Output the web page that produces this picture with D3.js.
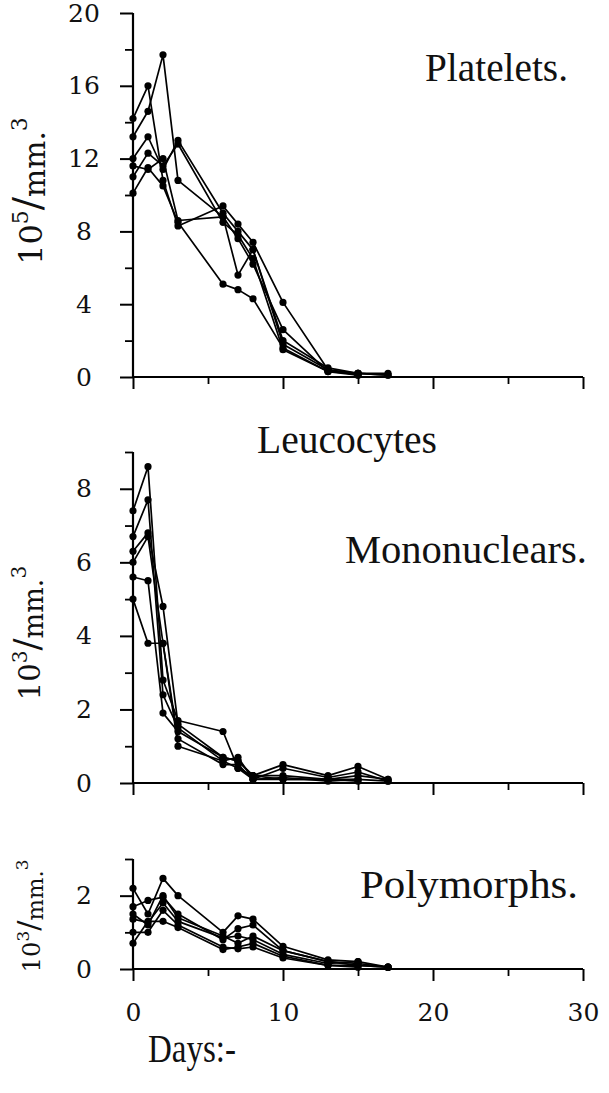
<!DOCTYPE html>
<html>
<head>
<meta charset="utf-8">
<script src="https://cdn.jsdelivr.net/npm/d3@7/dist/d3.min.js"></script>
<style>
  html, body { margin: 0; padding: 0; background: #fff; }
  svg { display: block; }
</style>
</head>
<body>
<svg id="chart" width="609" height="1093"></svg>
<script>
// ---------------- DATA ----------------
const days = [0, 1, 2, 3, 6, 7, 8, 10, 13, 15, 17];

// Platelets, 10^5 / mm^3
const platelets1 = [14.2, 16.0, 10.8, 8.3, 9.4, 8.4, 7.4, 4.1, 0.4, 0.2, 0.1];
const platelets2 = [13.2, 14.6, 17.7, 10.8, 8.8, 7.6, 6.2, 2.6, 0.3, 0.2, null];
const platelets3 = [12.0, 13.2, 11.4, 13.0, 9.0, 8.0, 7.0, 1.8, 0.4, 0.1, null];
const platelets4 = [11.0, 12.3, 11.6, 12.8, 8.5, 7.8, 6.5, 1.5, 0.3, 0.2, 0.2];
const platelets5 = [10.1, 11.5, 10.5, 8.5, 5.1, 4.8, 4.3, 1.6, 0.3, 0.1, null];
const platelets6 = [11.6, 11.4, 12.0, 8.6, 8.8, 5.6, 7.0, 2.0, 0.5, 0.2, 0.1];

// Mononuclears, 10^3 / mm^3
const mono1 = [7.4, 8.6, 2.8, 1.7, 1.4, 0.4, 0.2, 0.5, 0.2, 0.45, 0.1];
const mono2 = [6.7, 7.7, 2.4, 1.5, 0.6, 0.7, 0.1, 0.4, 0.15, 0.3, 0.05];
const mono3 = [6.3, 6.8, 4.8, 1.6, 0.7, 0.6, 0.2, 0.1, 0.1, 0.1, null];
const mono4 = [6.0, 6.7, 3.8, 1.2, 0.5, 0.5, 0.1, 0.15, 0.05, 0.1, 0.05];
const mono5 = [5.0, 3.8, 3.8, 1.0, 0.6, 0.4, 0.1, 0.1, 0.1, 0.05, null];
const mono6 = [5.6, 5.5, 1.9, 1.4, 0.7, 0.6, 0.2, 0.2, 0.1, 0.2, 0.1];

// Polymorphs, 10^3 / mm^3
const poly1 = [2.2, 1.5, 2.47, 2.0, 1.0, 1.45, 1.36, 0.62, 0.25, 0.2, 0.05];
const poly2 = [1.7, 1.87, 1.96, 1.5, 0.8, 1.1, 1.2, 0.5, 0.2, 0.15, 0.05];
const poly3 = [1.36, 1.27, 1.8, 1.3, 0.85, 0.9, 0.8, 0.4, 0.15, 0.2, null];
const poly4 = [1.0, 1.0, 1.6, 1.2, 0.6, 0.55, 0.6, 0.3, 0.1, 0.1, 0.05];
const poly5 = [0.7, 1.3, 1.3, 1.13, 0.53, 0.6, 0.7, 0.35, 0.1, 0.05, null];
const poly6 = [1.5, 1.2, 2.0, 1.4, 0.9, 0.7, 0.9, 0.5, 0.2, 0.1, 0.05];

// Ticks
const xMajorTicks = [0, 10, 20, 30];
const xMinorTicks = [5, 15, 25];
const plateletMajor = [0, 4, 8, 12, 16, 20];
const plateletMinor = [2, 6, 10, 14, 18];
const monoMajor = [0, 2, 4, 6, 8];
const monoMinor = [1, 3, 5, 7, 9];
const polyMajor = [0, 2];
const polyMinor = [1, 3];

// Titles
const titlePlatelets = "Platelets.";
const titleLeucocytes = "Leucocytes";
const titleMono = "Mononuclears.";
const titlePoly = "Polymorphs.";
const xTitle = "Days:-";

// ---------------- DRAW ----------------
const svg = d3.select("#chart");
const x = d3.scaleLinear().domain([0, 30]).range([133, 583]);

const panels = [
  { series: [platelets1, platelets2, platelets3, platelets4, platelets5, platelets6],
    y: d3.scaleLinear().domain([0, 20]).range([377, 13]),
    major: plateletMajor, minor: plateletMinor,
    exp: "5", labelY: 191, labelX: 42, labelScale: 1.1, xLabels: false },
  { series: [mono1, mono2, mono3, mono4, mono5, mono6],
    y: d3.scaleLinear().domain([0, 9]).range([783, 452]),
    major: monoMajor, minor: monoMinor,
    exp: "3", labelY: 633, labelX: 40, labelScale: 1.0, xLabels: false },
  { series: [poly1, poly2, poly3, poly4, poly5, poly6],
    y: d3.scaleLinear().domain([0, 3]).range([969, 859]),
    major: polyMajor, minor: polyMinor,
    exp: "3", labelY: 916, labelX: 40, labelScale: 0.84, xLabels: true }
];

const font = '"DejaVu Serif", "Liberation Serif", serif';

panels.forEach(p => {
  const g = svg.append("g");
  const y0 = p.y.range()[0], y1 = p.y.range()[1];
  // major y ticks
  const yMaj = d3.axisLeft(p.y).tickValues(p.major).tickSize(13).tickSizeOuter(0).tickFormat(d3.format("d"));
  const gy = g.append("g").attr("transform", `translate(${x(0)},0)`).call(yMaj);
  gy.select(".domain").remove();
  gy.selectAll(".tick line").attr("stroke", "#000").attr("stroke-width", 2);
  gy.selectAll(".tick text")
    .attr("x", -49).attr("text-anchor", "middle")
    .attr("font-size", 25).attr("fill", "#111")
    .style("font-family", font);
  // minor y ticks
  const yMin = d3.axisLeft(p.y).tickValues(p.minor).tickSize(8).tickSizeOuter(0).tickFormat("");
  const gym = g.append("g").attr("transform", `translate(${x(0)},0)`).call(yMin);
  gym.select(".domain").remove();
  gym.selectAll(".tick line").attr("stroke", "#000").attr("stroke-width", 1.8);
  g.append("line").attr("x1", x(0)).attr("x2", x(0)).attr("y1", y0 + 1).attr("y2", y1)
    .attr("stroke", "#000").attr("stroke-width", 2.2);

  // x axis
  const xMaj = d3.axisBottom(x).tickValues(xMajorTicks).tickSize(12).tickSizeOuter(0).tickFormat(d3.format("d"));
  const gx = g.append("g").attr("transform", `translate(0,${y0})`).call(xMaj);
  gx.select(".domain").remove();
  gx.selectAll(".tick line").attr("stroke", "#000").attr("stroke-width", 2);
  if (p.xLabels) {
    gx.selectAll(".tick text").attr("y", 34).attr("dy", "0.71em")
      .attr("font-size", 25).attr("fill", "#111").style("font-family", font);
  } else {
    gx.selectAll(".tick text").remove();
  }
  const xMin = d3.axisBottom(x).tickValues(xMinorTicks).tickSize(7).tickSizeOuter(0).tickFormat("");
  const gxm = g.append("g").attr("transform", `translate(0,${y0})`).call(xMin);
  gxm.select(".domain").remove();
  gxm.selectAll(".tick line").attr("stroke", "#000").attr("stroke-width", 1.8);
  g.append("line").attr("x1", x(0) - 1).attr("x2", x(30)).attr("y1", y0).attr("y2", y0)
    .attr("stroke", "#000").attr("stroke-width", 2.2);

  // data lines
  const line = d3.line()
    .defined(d => d[1] !== null)
    .x(d => x(d[0])).y(d => p.y(d[1]));
  p.series.forEach(s => {
    const pts = days.map((d, i) => [d, s[i]]);
    g.append("path").datum(pts)
      .attr("d", line).attr("fill", "none")
      .attr("stroke", "#000").attr("stroke-width", 1.7).attr("stroke-linejoin", "round");
    g.selectAll(null).data(pts.filter(d => d[1] !== null)).enter()
      .append("circle")
      .attr("cx", d => x(d[0])).attr("cy", d => p.y(d[1]))
      .attr("r", 3.6).attr("fill", "#000");
  });

  // y label: 10^n / mm.^3
  const k = p.labelScale;
  const t = svg.append("text")
    .attr("transform", `translate(${p.labelX},${p.labelY}) rotate(-90)`)
    .attr("text-anchor", "middle")
    .style("font-family", font).attr("fill", "#111");
  t.append("tspan").attr("font-size", 29 * k).text("10");
  t.append("tspan").attr("font-size", 20 * k).attr("dy", -13 * k).text(p.exp);
  t.append("tspan").attr("font-size", 36 * k).attr("dy", 12 * k).text("/");
  t.append("tspan").attr("font-size", 27 * k).attr("dy", 4 * k).text("mm.");
  t.append("tspan").attr("font-size", 20 * k).attr("dy", -17 * k).text("3");
});

// titles
const titleFont = '"Liberation Serif", "DejaVu Serif", serif';
function title(txt, x0, base, w, size) {
  svg.append("text").attr("x", x0).attr("y", base)
    .attr("font-size", size).style("font-family", titleFont).attr("fill", "#111")
    .attr("textLength", w).attr("lengthAdjust", "spacingAndGlyphs")
    .text(txt);
}
title(titlePlatelets, 425, 81, 143, 40);
title(titleLeucocytes, 257, 453, 180, 40);
title(titleMono, 345, 563, 242, 40);
title(titlePoly, 360, 898, 218, 40);
title(xTitle, 148, 1062, 88, 40);
</script>
</body>
</html>
